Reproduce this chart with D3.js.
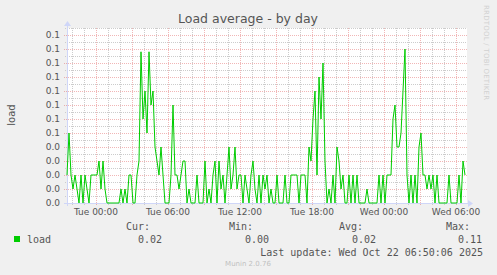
<!DOCTYPE html>
<html>
<head>
<meta charset="utf-8">
<script src="https://cdn.jsdelivr.net/npm/d3@7"></script>
<style>
  body { margin: 0; background: #f0f0f0; }
  svg { display: block; }
  text { font-family: "DejaVu Sans", sans-serif; }
  .mono { font-family: "DejaVu Sans Mono", monospace; font-size: 10px; fill: #555; }
</style>
</head>
<body>
<svg width="497" height="275"></svg>
<script>
// Time window and sample spacing (10 minute samples)
const startTime = new Date(2025, 9, 20, 21, 35);
const endTime = new Date(2025, 9, 22, 6, 55);
const stepMinutes = 10;

// load average values
const loadValues = [
  0.02, 0.05, 0.02, 0.01, 0.02, 0.01, 0.00, 0.02, 0.00, 0.02,
  0.01, 0.00, 0.02, 0.02, 0.02, 0.02, 0.03, 0.01, 0.03, 0.01,
  0.00, 0.00, 0.00, 0.00, 0.00, 0.00, 0.00, 0.01, 0.00, 0.01,
  0.00, 0.02, 0.02, 0.00, 0.00, 0.02, 0.03, 0.108, 0.06, 0.08,
  0.05, 0.108, 0.07, 0.08, 0.04, 0.03, 0.02, 0.04, 0.02, 0.00,
  0.00, 0.00, 0.02, 0.07, 0.02, 0.02, 0.01, 0.02, 0.03, 0.03,
  0.00, 0.01, 0.00, 0.00, 0.00, 0.02, 0.00, 0.00, 0.00, 0.03,
  0.00, 0.01, 0.00, 0.02, 0.03, 0.00, 0.03, 0.01, 0.02, 0.00,
  0.02, 0.04, 0.01, 0.02, 0.04, 0.01, 0.02, 0.02, 0.00, 0.02,
  0.01, 0.00, 0.02, 0.03, 0.01, 0.00, 0.02, 0.00, 0.02, 0.01,
  0.02, 0.00, 0.01, 0.00, 0.00, 0.02, 0.00, 0.00, 0.00, 0.02,
  0.00, 0.00, 0.02, 0.02, 0.02, 0.02, 0.00, 0.02, 0.02, 0.02,
  0.00, 0.04, 0.03, 0.06, 0.08, 0.02, 0.09, 0.06, 0.10, 0.03,
  0.00, 0.01, 0.00, 0.02, 0.00, 0.04, 0.03, 0.01, 0.02, 0.00,
  0.00, 0.02, 0.00, 0.02, 0.00, 0.02, 0.00, 0.00, 0.00, 0.00,
  0.01, 0.00, 0.00, 0.00, 0.00, 0.00, 0.02, 0.00, 0.02, 0.00,
  0.02, 0.02, 0.02, 0.06, 0.07, 0.04, 0.04, 0.05, 0.08, 0.11,
  0.02, 0.00, 0.02, 0.00, 0.02, 0.00, 0.04, 0.05, 0.02, 0.02,
  0.01, 0.02, 0.01, 0.02, 0.00, 0.02, 0.00, 0.00, 0.00, 0.00,
  0.00, 0.02, 0.00, 0.00, 0.00, 0.00, 0.02, 0.00, 0.03, 0.02
];

// y ticks and legend
const yTicks = [0, 0.01, 0.02, 0.03, 0.04, 0.05, 0.06, 0.07, 0.08, 0.09, 0.10, 0.11, 0.12];
const yMax = 0.125;
const legendHeaders = ["Cur:", "Min:", "Avg:", "Max:"];
const legendValues = ["0.02", "0.00", "0.02", "0.11"];
const lastUpdate = "Last update: Wed Oct 22 06:50:06 2025";

const margin = { left: 67, top: 28 };
const innerWidth = 400;
const innerHeight = 175;

const svg = d3.select('svg');
svg.append('rect').attr('width', 497).attr('height', 275).attr('fill', '#f0f0f0');

const x = d3.scaleTime().domain([startTime, endTime]).range([0, innerWidth]);
const y = d3.scaleLinear().domain([0, yMax]).range([innerHeight, 0]);

const g = svg.append('g').attr('transform', `translate(${margin.left},${margin.top})`);
g.append('rect').attr('width', innerWidth).attr('height', innerHeight).attr('fill', '#fff');

const minorColor = '#cccccc';
const majorColor = 'rgba(222,80,80,0.42)';

// Horizontal grid
const yMinor = d3.range(0.005, yMax + 1e-9, 0.01);
g.selectAll('.hminor').data(yMinor).join('line')
  .attr('x1', -2).attr('x2', innerWidth)
  .attr('y1', d => Math.round(y(d)) + 0.5).attr('y2', d => Math.round(y(d)) + 0.5)
  .attr('stroke', minorColor).attr('stroke-dasharray', '1,1');
g.selectAll('.hmajor').data(yTicks.slice(1)).join('line')
  .attr('x1', -3).attr('x2', innerWidth)
  .attr('y1', d => Math.round(y(d)) + 0.5).attr('y2', d => Math.round(y(d)) + 0.5)
  .attr('stroke', majorColor).attr('stroke-dasharray', '1,1');

// Vertical grid
const hours = d3.timeHour.range(startTime, endTime);
g.selectAll('.vminor').data(hours.filter(d => d.getHours() % 3 !== 0)).join('line')
  .attr('x1', d => Math.round(x(d)) + 0.5).attr('x2', d => Math.round(x(d)) + 0.5)
  .attr('y1', 0).attr('y2', innerHeight + 2)
  .attr('stroke', minorColor).attr('stroke-dasharray', '1,1');
g.selectAll('.vmajor').data(hours.filter(d => d.getHours() % 3 === 0)).join('line')
  .attr('x1', d => Math.round(x(d)) + 0.5).attr('x2', d => Math.round(x(d)) + 0.5)
  .attr('y1', 0).attr('y2', innerHeight + 3)
  .attr('stroke', majorColor).attr('stroke-dasharray', '1,1');

// Axes with arrows
const axisColor = '#cfd6f8';
g.append('line').attr('x1', -3).attr('x2', innerWidth + 3)
  .attr('y1', innerHeight + 0.5).attr('y2', innerHeight + 0.5).attr('stroke', axisColor);
g.append('line').attr('x1', 0.5).attr('x2', 0.5)
  .attr('y1', innerHeight + 3).attr('y2', -4).attr('stroke', axisColor);
g.append('path').attr('d', 'M-3,-2L4,-2L0.5,-7Z').attr('fill', axisColor);
g.append('path').attr('d', `M${innerWidth + 1},${innerHeight - 3}L${innerWidth + 1},${innerHeight + 4}L${innerWidth + 6},${innerHeight + 0.5}Z`).attr('fill', axisColor);

// Data line
const data = loadValues.map((v, i) => ({ t: d3.timeMinute.offset(startTime, i * stepMinutes), v }));
g.append('path').datum(data)
  .attr('fill', 'none').attr('stroke', '#00cc00').attr('stroke-width', 1)
  .attr('d', d3.line().x(d => x(d.t)).y(d => y(d.v)));

// Y labels
g.selectAll('.ylab').data(yTicks).join('text')
  .attr('x', -7).attr('y', d => y(d)).attr('dy', '0.36em')
  .attr('text-anchor', 'end').attr('font-size', 9).attr('fill', '#555')
  .text(d => d3.format('.1f')(d));

// X labels
const fmt = d3.timeFormat('%a %H:%M');
g.selectAll('.xlab').data(d3.timeHour.every(6).range(startTime, endTime)).join('text')
  .attr('x', d => x(d)).attr('y', innerHeight + 12)
  .attr('text-anchor', 'middle').attr('font-size', 9).attr('fill', '#555')
  .text(d => fmt(d));

// Title
svg.append('text').attr('x', 248).attr('y', 23).attr('text-anchor', 'middle')
  .attr('font-size', 12.5).attr('fill', '#555').text('Load average - by day');

// Vertical unit label
svg.append('text').attr('transform', 'translate(15,115) rotate(-90)')
  .attr('text-anchor', 'middle').attr('font-size', 10).attr('fill', '#555').text('load');

// Watermark
svg.append('text').attr('transform', 'translate(484,5) rotate(90)')
  .attr('font-size', 7).attr('fill', '#d0d0d0')
  .attr('textLength', 95).text('RRDTOOL / TOBI OETIKER');

// Legend
svg.append('rect').attr('x', 14).attr('y', 236).attr('width', 6).attr('height', 6).attr('fill', '#00cc00');
svg.append('text').attr('class', 'mono').attr('x', 27).attr('y', 243).text('load');
const headerEnds = [150, 253, 363, 470];
const valueEnds = [162, 269, 376, 482];
svg.selectAll('.lh').data(legendHeaders).join('text').attr('class', 'mono')
  .attr('x', (d, i) => headerEnds[i]).attr('y', 230).attr('text-anchor', 'end').text(d => d);
svg.selectAll('.lv').data(legendValues).join('text').attr('class', 'mono')
  .attr('x', (d, i) => valueEnds[i]).attr('y', 243).attr('text-anchor', 'end').text(d => d);
svg.append('text').attr('class', 'mono').attr('x', 483).attr('y', 256)
  .attr('text-anchor', 'end').text(lastUpdate);

svg.append('text').attr('x', 248).attr('y', 266).attr('text-anchor', 'middle')
  .attr('font-size', 7).attr('fill', '#c0c0c0').text('Munin 2.0.76');
</script>
</body>
</html>
